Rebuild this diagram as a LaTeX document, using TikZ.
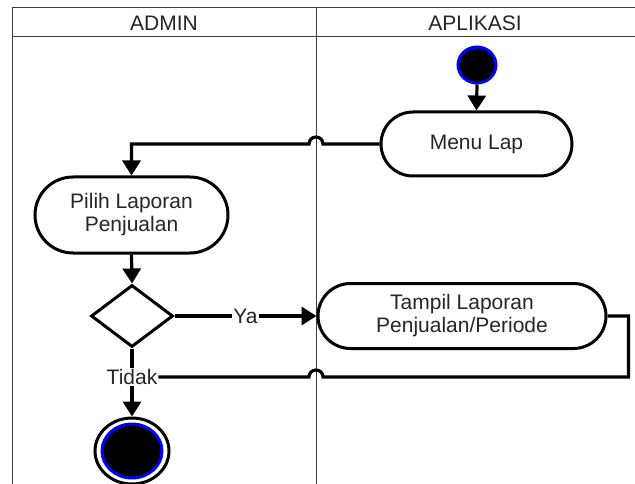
\documentclass[tikz,border=0pt]{standalone}
\usepackage{fontspec}
\setmainfont{Liberation Sans}
\usetikzlibrary{arrows.meta,shapes.geometric}
\begin{document}
\begin{tikzpicture}[x=1pt,y=-1pt,
  frame/.style={draw=black!75,line width=1pt},
  txt/.style={font=\fontsize{21}{23}\selectfont,text=black!85},
  act/.style={txt,draw=black,line width=3pt,rectangle,rounded corners=#1,fill=white,align=center,inner sep=0pt},
  act/.default=32pt,
  line/.style={draw=black,line width=3.2pt},
  conn/.style={line,-{Triangle[length=15pt,width=18pt]}},
  lbl/.style={txt,fill=white,inner sep=1pt},
  decision/.style={diamond,draw=black,line width=3pt,fill=white,inner sep=0pt,minimum width=82pt,minimum height=62pt,aspect=1.32}
]
\useasboundingbox (0,0) rectangle (635,484);
% swimlane frame
\coordinate (dv) at (316,0);
\draw[frame] (12,484) -- (12,8) -- (635,8);
\draw[frame] (12,37) -- (635,37);
\draw[frame] (316,8) -- (316,484);
\node[txt] (hadm) at (164,23) {ADMIN};
\node[txt] (hapl) at (475,23) {APLIKASI};
% nodes
\node[ellipse,draw=blue,line width=3pt,fill=black,minimum width=38pt,minimum height=36pt,inner sep=0pt] (start) at (477,65) {};
\node[act=32pt,minimum width=191pt,minimum height=64pt] (menu) at (476.5,144) {Menu Lap};
\node[act=38pt,minimum width=193pt,minimum height=76pt] (pilih) at (131.5,215) {Pilih Laporan\\Penjualan};
\node[decision] (dec) at (132,316) {};
\node[act=32.5pt,minimum width=288pt,minimum height=65pt] (tampil) at (462,316) {Tampil Laporan\\Penjualan/Periode};
\node[lbl,inner sep=1pt] (tidak) at (132,377) {Tidak};
\node[ellipse,draw=black,line width=3pt,fill=white,minimum width=74pt,minimum height=66pt,inner sep=0pt] (fin) at (132,451) {};
\node[ellipse,draw=blue,line width=3pt,fill=black,minimum width=60pt,minimum height=54pt,inner sep=0pt] (fini) at (132,451) {};
% connectors
\draw[conn] (start.south) -- (menu.north);
\draw[conn] (menu.west) -- ([xshift=7pt]menu.west -| dv) arc[start angle=0,end angle=180,radius=7pt] -| (pilih.north);
\draw[conn] (pilih.south) -- (dec.north);
\draw[conn] (dec.east) -- node[lbl] (ya) {Ya} (tampil.west);
\draw[line] (dec.south) -- (tidak.north);
\draw[conn] (tidak.south) -- (fin.north);
\draw[line] (tampil.east) -- ++(21,0) |- ([xshift=7pt]tidak.east -| dv) arc[start angle=0,end angle=180,radius=7pt] -- (tidak.east);
\end{tikzpicture}
\end{document}
